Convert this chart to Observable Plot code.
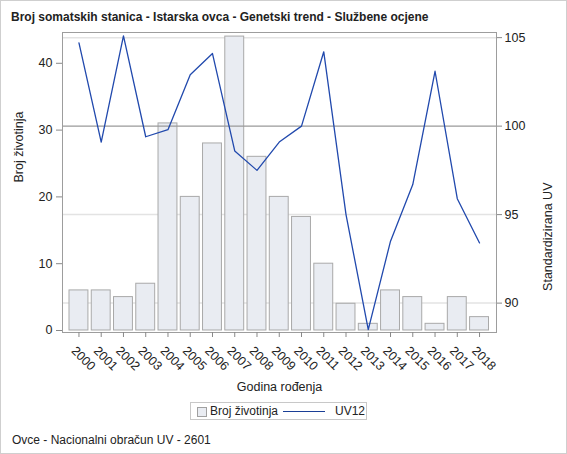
<!DOCTYPE html>
<html>
<head>
<meta charset="utf-8">
<script src="https://cdn.jsdelivr.net/npm/d3@7"></script>
<script src="https://cdn.jsdelivr.net/npm/@observablehq/plot@0.6"></script>
<style>
  body { margin: 0; background: #fff; }
  #chart { position: relative; width: 567px; height: 454px; font-family: "Liberation Sans", Arial, sans-serif; color: #222; overflow: hidden; }
  #border { position: absolute; left: 0; top: 0; width: 567px; height: 454px; box-sizing: border-box; border: 1px solid #cfcfcf; pointer-events: none; }
  #title { position: absolute; left: 11px; top: 9px; font-size: 12px; font-weight: bold; line-height: 16px; white-space: nowrap; }
  #plot { position: absolute; left: 0; top: 0; }
  #legend { position: absolute; left: 190px; top: 402px; width: 177px; height: 18px; box-sizing: border-box; border: 1px solid #c8c8c8; font-size: 12px; line-height: 16px; }
  #legend .sw { position: absolute; left: 6px; top: 4px; width: 8px; height: 8px; background: #e9ecf2; border: 1px solid #a0a0a0; }
  #legend .t1 { position: absolute; left: 19px; top: 0px; }
  #legend .ln { position: absolute; left: 92px; top: 8px; width: 42px; height: 0; border-top: 1.3px solid #1a3f96; }
  #legend .t2 { position: absolute; left: 144px; top: 0px; }
  #footer { position: absolute; left: 12px; top: 433px; font-size: 12px; line-height: 14px; white-space: nowrap; }
</style>
</head>
<body>
<div id="chart">
  <div id="plot"></div>
  <div id="title">Broj somatskih stanica - Istarska ovca - Genetski trend - Službene ocjene</div>
  <div id="legend"><span class="sw"></span><span class="t1">Broj životinja</span><span class="ln"></span><span class="t2">UV12</span></div>
  <div id="footer">Ovce - Nacionalni obračun UV - 2601</div>
  <div id="border"></div>
</div>
<script>
// godine rođenja
const years = ["2000", "2001", "2002", "2003", "2004", "2005", "2006", "2007", "2008", "2009",
               "2010", "2011", "2012", "2013", "2014", "2015", "2016", "2017", "2018"];
// broj životinja (lijeva os)
const counts = [6, 6, 5, 7, 31, 20, 28, 44, 26, 20, 17, 10, 4, 1, 6, 5, 1, 5, 2];
// standardizirana UV12 (desna os)
const uv12 = [104.7, 99.1, 105.1, 99.4, 99.8, 102.9, 104.1, 98.6, 97.5, 99.1,
              100.0, 104.2, 95.0, 88.5, 93.5, 96.7, 103.1, 95.9, 93.4];
const countTicks = [0, 10, 20, 30, 40];
const uvTicks = [90, 95, 100, 105];
const uvRef = 100;

const countDomain = [-0.3, 44.61];
const uvDomain = [88.34, 105.29];
// UV -> vrijednost na lijevoj osi (dvostruka y os)
const uvToY = d3.scaleLinear(uvDomain, countDomain);

const data = years.map((year, i) => ({ year, count: counts[i], uv: uv12[i] }));

function getPlot_GenetskiTrend() {
    return Plot.plot({
        width: 567,
        height: 400,
        marginTop: 32,
        marginBottom: 68,
        marginLeft: 62,
        marginRight: 71,
        style: { fontFamily: "Liberation Sans, Arial, sans-serif", fontSize: "12.5px", color: "#222", background: "transparent" },
        x: { type: "band", domain: years, paddingInner: 0.15, paddingOuter: 0, round: false, insetLeft: 7, insetRight: 7.5, axis: null },
        y: { domain: countDomain, axis: null },
        marks: [
            Plot.gridY(uvTicks.filter(t => t !== uvRef).map(uvToY), { stroke: "#e3e3e3", strokeOpacity: 1, strokeWidth: 1.5 }),
            Plot.barY(data, { x: "year", y: "count", fill: "#e9ecf2", stroke: "#a9a9a9", strokeWidth: 1 }),
            Plot.ruleY([uvToY(uvRef)], { stroke: "#9a9a9a", strokeWidth: 1.2 }),
            Plot.lineY(data, { x: "year", y: d => uvToY(d.uv), stroke: "#2149ad", strokeWidth: 1.3 }),
            Plot.frame({ stroke: "#9d9d9d" }),
            Plot.axisY(countTicks, { anchor: "left", tickSize: 6, tickPadding: 4, stroke: "#888", label: null }),
            Plot.axisY(uvTicks.map(uvToY), { anchor: "right", tickSize: 5, tickPadding: 3, stroke: "#888", tickFormat: d => d3.format("d")(Math.round(uvToY.invert(d))), label: null }),
            Plot.axisX({ anchor: "bottom", tickSize: 5, stroke: "#888", tickFormat: () => "", label: null }),
            Plot.axisX({ anchor: "bottom", tickSize: 0, tickRotate: 45, lineAnchor: "top", textAnchor: "start", dx: -2, dy: 1, label: null }),
            Plot.text(["Broj životinja"], { frameAnchor: "left", dx: -44, rotate: -90, fontSize: 12.5 }),
            Plot.text(["Standardizirana UV"], { frameAnchor: "right", dx: 51, rotate: -90, fontSize: 12.5 }),
            Plot.text(["Godina rođenja"], { frameAnchor: "bottom", dy: 54, lineAnchor: "middle", fontSize: 12.5 })
        ]
    });
}

document.getElementById("plot").append(getPlot_GenetskiTrend());
</script>
</body>
</html>
